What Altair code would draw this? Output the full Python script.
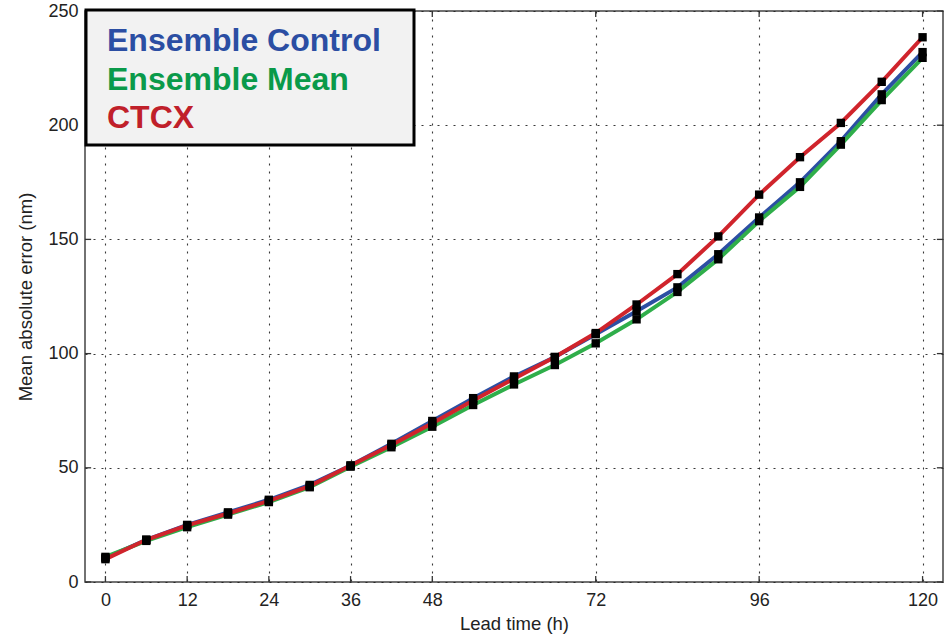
import altair as alt
import pandas as pd

# ---- data ----
lead_time = [0, 6, 12, 18, 24, 30, 36, 42, 48, 54, 60, 66, 72, 78, 84, 90, 96, 102, 108, 114, 120]
ens_control = [10.5, 18.5, 25.0, 30.5, 36.0, 42.5, 51.0, 60.5, 70.5, 80.5, 90.0, 98.5, 108.5,
               118.5, 129.0, 143.5, 159.6, 175.0, 193.0, 213.5, 232.0]
ens_mean = [11.0, 18.0, 24.0, 29.5, 35.0, 41.5, 50.5, 59.0, 68.0, 77.5, 86.5, 95.0, 104.5,
            115.0, 127.0, 141.3, 158.0, 173.0, 191.5, 211.0, 229.5]
ctcx = [10.0, 18.5, 24.8, 30.0, 35.5, 42.0, 51.0, 60.0, 69.5, 79.5, 89.0, 98.5, 109.0,
        121.5, 134.8, 151.3, 169.6, 186.0, 201.0, 219.0, 238.5]

series_names = ["Ensemble Control", "Ensemble Mean", "CTCX"]
series_colors = ["#2c4fa3", "#2fae4a", "#d0242c"]
text_colors = ["#2b4ea3", "#0a9a4a", "#c0202a"]
draw_order = ["Ensemble Mean", "Ensemble Control", "CTCX"]

x_ticks = [0, 12, 24, 36, 48, 72, 96, 120]
y_ticks = [0, 50, 100, 150, 200, 250]

# ---- tables ----
rows = []
for name, vals in zip(series_names, [ens_control, ens_mean, ctcx]):
    for h, v in zip(lead_time, vals):
        rows.append({"lead": h, "mae": v, "series": name, "order": draw_order.index(name)})
df = pd.DataFrame(rows)

leg = pd.DataFrame({"series": series_names, "i": list(range(len(series_names)))})
xt = pd.DataFrame({"t": x_ticks})
yt = pd.DataFrame({"t": y_ticks})

X_DOM = [-3, 123]
Y_DOM = [0, 250]
xscale = alt.Scale(domain=X_DOM, nice=False, zero=False)
yscale = alt.Scale(domain=Y_DOM, nice=False)
cscale = alt.Scale(domain=series_names, range=series_colors)
tscale = alt.Scale(domain=series_names, range=text_colors)

base = alt.Chart(df)

lines = base.mark_line(strokeWidth=4, clip=True).encode(
    x=alt.X("lead:Q", scale=xscale,
            axis=alt.Axis(values=x_ticks, title="Lead time (h)", labelPadding=9,
                          titlePadding=5, format="d")),
    y=alt.Y("mae:Q", scale=yscale,
            axis=alt.Axis(values=y_ticks, title="Mean absolute error (nm)",
                          labelPadding=7, titlePadding=12, format="d")),
    color=alt.Color("series:N", scale=cscale, legend=None),
    detail="series:N",
    order=alt.Order("order:Q"),
)

markers = base.mark_point(shape="square", filled=True, size=70, color="black",
                          opacity=1).encode(
    x=alt.X("lead:Q", scale=xscale),
    y=alt.Y("mae:Q", scale=yscale),
)

# inward tick marks (MATLAB style) on all four sides
tick_style = dict(color="#333", strokeWidth=1.3)
xt_bot = alt.Chart(xt).mark_rule(**tick_style).transform_calculate(
    y0="0", y1="2.6").encode(
    x=alt.X("t:Q", scale=xscale), y=alt.Y("y0:Q", scale=yscale), y2="y1:Q")
xt_top = alt.Chart(xt).mark_rule(**tick_style).transform_calculate(
    y0="250", y1="247.4").encode(
    x=alt.X("t:Q", scale=xscale), y=alt.Y("y0:Q", scale=yscale), y2="y1:Q")
yt_left = alt.Chart(yt).mark_rule(**tick_style).transform_calculate(
    x0="-3", x1="-2.1").encode(
    y=alt.Y("t:Q", scale=yscale), x=alt.X("x0:Q", scale=xscale), x2="x1:Q")
yt_right = alt.Chart(yt).mark_rule(**tick_style).transform_calculate(
    x0="123", x1="122.1").encode(
    y=alt.Y("t:Q", scale=yscale), x=alt.X("x0:Q", scale=xscale), x2="x1:Q")

# legend box
legend_box = alt.Chart(pd.DataFrame({"k": [0]})).mark_rect(
    fill="#f2f2f2", stroke="black", strokeWidth=3).encode(
    x=alt.value(1), x2=alt.value(329), y=alt.value(-1), y2=alt.value(134))

leg_text = alt.Chart(leg).transform_calculate(
    ypix="40 + datum.i * 38.5"
).mark_text(font="Liberation Sans", fontSize=32, fontWeight="bold",
            align="left", baseline="alphabetic").encode(
    x=alt.value(22), y=alt.Y("ypix:Q", scale=None), text="series:N",
    color=alt.Color("series:N", scale=tscale, legend=None))

chart = alt.layer(
    lines, markers, xt_bot, xt_top, yt_left, yt_right,
    legend_box, leg_text
).resolve_scale(color="independent").properties(
    width=858, height=571,
    padding={"left": 85, "top": 11, "right": 6, "bottom": 55},
    autosize=alt.AutoSizeParams(type="none"),
    background="white",
).configure_view(
    stroke="#444", strokeWidth=1.5
).configure_axis(
    labelFont="Liberation Sans", labelFontSize=18, labelColor="#222",
    titleFont="Liberation Sans", titleFontSize=18.5, titleFontWeight="normal",
    titleColor="#222", ticks=False, domain=False, grid=True,
    gridDash=[2, 6], gridColor="#222", gridWidth=1.1, gridOpacity=0.9,
)

chart.save("out.html", embed_options={"renderer": "svg", "actions": False})
